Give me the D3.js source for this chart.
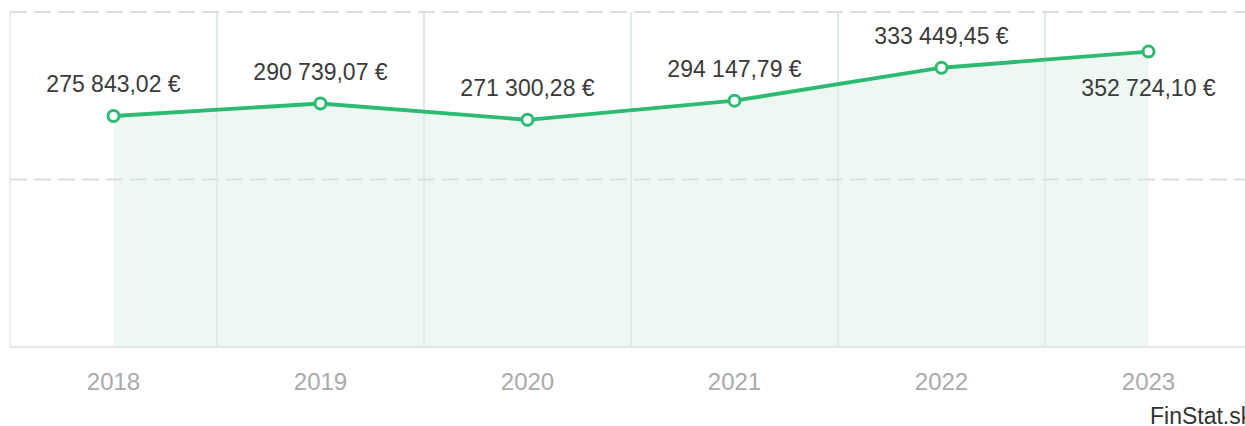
<!DOCTYPE html>
<html>
<head>
<meta charset="utf-8">
<script src="https://cdn.jsdelivr.net/npm/d3@7"></script>
<style>
  html, body { margin: 0; padding: 0; background: #fff; overflow: hidden; }
  svg { display: block; font-family: "Liberation Sans", Arial, sans-serif; }
</style>
</head>
<body>
<svg id="chart"></svg>
<script>
// data
let years = ["2018", "2019", "2020", "2021", "2022", "2023"];
let values = [275843.02, 290739.07, 271300.28, 294147.79, 333449.45, 352724.10];
let yTicks = [0, 200000, 400000];
// where the value label sits relative to its point
let labelSide = ["above", "above", "above", "above", "above", "below"];

function fmt(v) {
  let parts = v.toFixed(2).split(".");
  let intPart = parts[0].replace(/\B(?=(\d{3})+(?!\d))/g, " ");
  return intPart + "," + parts[1] + " €";
}

function createChart() {
  let w = 1245, h = 426;
  let left = 10, right = 1252, top = 12, bottom = 347;

  let svg = d3.select("#chart")
      .attr("width", w)
      .attr("height", h);

  let x = d3.scaleBand()
      .domain(years)
      .range([left, right]);

  let y = d3.scaleLinear()
      .domain([0, 400000])
      .range([bottom, top]);

  let cx = d => x(d) + x.bandwidth() / 2;
  let pts = years.map((yr, i) => ({year: yr, value: values[i], side: labelSide[i]}));

  // vertical band separators
  svg.append("g")
    .selectAll("line")
    .data(years)
    .enter().append("line")
      .attr("x1", d => x(d))
      .attr("x2", d => x(d))
      .attr("y1", top)
      .attr("y2", bottom)
      .attr("stroke", "#e0eaea")
      .attr("stroke-width", 1.5);

  // area under the line
  let area = d3.area()
      .x(d => cx(d.year))
      .y0(y(0))
      .y1(d => y(d.value));

  svg.append("path")
      .datum(pts)
      .attr("d", area)
      .attr("fill", "#eef8f2");

  // redraw separators faintly over the fill
  svg.append("g")
    .selectAll("line")
    .data(years.slice(1))
    .enter().append("line")
      .attr("x1", d => x(d))
      .attr("x2", d => x(d))
      .attr("y1", top)
      .attr("y2", bottom)
      .attr("stroke", "#dbe8e6")
      .attr("stroke-width", 1.5);

  // dashed horizontal grid
  svg.append("g")
    .selectAll("line")
    .data(yTicks.filter(t => t > 0))
    .enter().append("line")
      .attr("x1", left)
      .attr("x2", w)
      .attr("y1", d => y(d))
      .attr("y2", d => y(d))
      .attr("stroke", "#dedede")
      .attr("stroke-width", 2)
      .attr("stroke-dasharray", "17,7");

  // baseline
  svg.append("line")
      .attr("x1", left)
      .attr("x2", w)
      .attr("y1", y(0))
      .attr("y2", y(0))
      .attr("stroke", "#e6e6e6")
      .attr("stroke-width", 2);

  // line
  let line = d3.line()
      .x(d => cx(d.year))
      .y(d => y(d.value));

  svg.append("path")
      .datum(pts)
      .attr("d", line)
      .attr("fill", "none")
      .attr("stroke", "#2dbb72")
      .attr("stroke-width", 3.8);

  svg.append("g")
    .selectAll("circle")
    .data(pts)
    .enter().append("circle")
      .attr("cx", d => cx(d.year))
      .attr("cy", d => y(d.value))
      .attr("r", 5.5)
      .attr("fill", "#fff")
      .attr("stroke", "#2dbb72")
      .attr("stroke-width", 3);

  // value labels
  svg.append("g")
    .selectAll("text")
    .data(pts)
    .enter().append("text")
      .attr("x", d => cx(d.year))
      .attr("y", d => d.side === "below" ? y(d.value) + 44 : y(d.value) - 24)
      .attr("text-anchor", "middle")
      .attr("font-size", 23)
      .attr("fill", "#3a3a3a")
      .text(d => fmt(d.value));

  // x axis labels
  let xAxis = d3.axisBottom(x).tickSize(0).tickPadding(0);
  let gx = svg.append("g")
      .attr("transform", `translate(0,${bottom})`)
      .call(xAxis);
  gx.select(".domain").remove();
  gx.selectAll("text")
      .attr("dy", null)
      .attr("y", 43)
      .attr("font-size", 24)
      .attr("font-family", "Liberation Sans, Arial, sans-serif")
      .attr("fill", "#aaaaaa");

  // credit
  svg.append("text")
      .attr("x", 1150)
      .attr("y", 424)
      .attr("font-size", 23)
      .attr("fill", "#333")
      .text("FinStat.sk");
}

window.onload = function() {
  createChart();
};
</script>
</body>
</html>
